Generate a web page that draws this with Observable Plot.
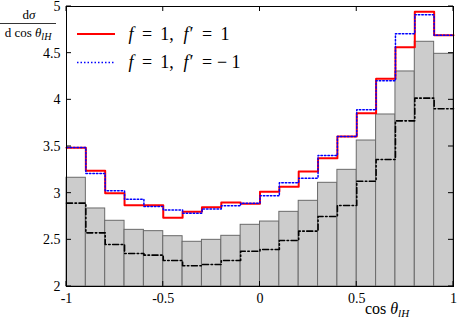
<!DOCTYPE html>
<html><head><meta charset="utf-8">
<script src="https://cdn.jsdelivr.net/npm/d3@7"></script>
<script src="https://cdn.jsdelivr.net/npm/@observablehq/plot@0.6"></script>
<style>body{margin:0;background:#fff;} svg{display:block}</style>
</head><body><div id="chart"></div>
<script>
const binEdges = [-1,-0.9,-0.8,-0.7,-0.6,-0.5,-0.4,-0.3,-0.2,-0.1,0,0.1,0.2,0.3,0.4,0.5,0.6,0.7,0.8,0.9,1];
const grayHist = [3.165,2.836,2.704,2.607,2.593,2.539,2.479,2.50,2.543,2.661,2.696,2.80,2.918,3.111,3.25,3.564,3.843,4.304,4.622,4.493];
const redStep = [3.486,3.24,3.0,2.871,2.87,2.736,2.80,2.85,2.90,2.886,3.014,3.068,3.232,3.375,3.607,3.857,4.225,4.564,4.943,4.693];
const blueStep = [3.49,3.21,3.025,2.935,2.857,2.82,2.785,2.83,2.865,2.893,2.971,3.111,3.161,3.404,3.607,3.893,4.204,4.707,4.911,4.693];
const blackStep = [2.893,2.575,2.45,2.354,2.336,2.279,2.222,2.236,2.279,2.378,2.396,2.493,2.593,2.75,2.868,3.128,3.361,3.775,4.018,3.904];
const xTicks = [-1,-0.5,0,0.5,1];
const xTickLabels = ["-1","-0.5","0","0.5","1"];
const yTicks = [2,2.5,3,3.5,4,4.5,5];
const yTickLabels = ["2","2.5","3","3.5","4","4.5","5"];
const xDomain = [-1,1];
const yDomain = [2,5];

const FONT = "'Liberation Serif', 'Times New Roman', 'DejaVu Serif', serif";
const bars = grayHist.map((v,i)=>({x1: binEdges[i], x2: binEdges[i+1], v}));
function steps(vals){
  const pts = vals.map((v,i)=>({x: binEdges[i], y: v}));
  pts.push({x: binEdges[vals.length], y: vals[vals.length-1]});
  return pts;
}
const fmtX = d => xTickLabels[xTicks.findIndex(t => Math.abs(t - d) < 1e-9)];
const fmtY = d => yTickLabels[yTicks.findIndex(t => Math.abs(t - d) < 1e-9)];
const plot = Plot.plot({
  width: 458, height: 318,
  marginLeft: 66, marginRight: 5, marginTop: 6, marginBottom: 32,
  style: {fontFamily: FONT, fontSize: "14px", color: "black", background: "white"},
  x: {domain: xDomain, label: null},
  y: {domain: yDomain, label: null},
  marks: [
    Plot.rect(bars, {x1: "x1", x2: "x2", y1: () => yDomain[0], y2: "v", fill: "#cccccc", stroke: "#6a6a6a", strokeWidth: 1}),
    Plot.line(steps(blackStep), {x: "x", y: "y", curve: "step-after", stroke: "black", strokeWidth: 1.6, strokeDasharray: "6,2.5,1.5,2.5"}),
    Plot.line(steps(redStep), {x: "x", y: "y", curve: "step-after", stroke: "#ff0000", strokeWidth: 2}),
    Plot.line(steps(blueStep), {x: "x", y: "y", curve: "step-after", stroke: "#0000ff", strokeWidth: 1.5, strokeDasharray: "1.5,2"}),
    Plot.axisX(xTicks, {anchor: "bottom", tickSize: 0, tickPadding: 7, tickFormat: fmtX, label: null, fontSize: 14, fontFamily: FONT}),
    Plot.axisY(yTicks, {anchor: "left", tickSize: 0, tickPadding: 6, tickFormat: fmtY, label: null, fontSize: 14, fontFamily: FONT}),
    Plot.frame({stroke: "black", strokeWidth: 1})
  ]
});
document.getElementById("chart").appendChild(plot);

const svg = d3.select(plot);
const sx = plot.scale("x"), sy = plot.scale("y");
const [px0, px1] = sx.range, [py0, py1] = sy.range; // py0 bottom, py1 top
// inward mirrored ticks
const tg = svg.append("g").attr("stroke", "black").attr("stroke-width", 1);
xTicks.forEach(v => {
  const x = sx.apply(v);
  tg.append("line").attr("x1", x).attr("x2", x).attr("y1", py0).attr("y2", py0 - 5);
  tg.append("line").attr("x1", x).attr("x2", x).attr("y1", py1).attr("y2", py1 + 5);
});
yTicks.forEach(v => {
  const y = sy.apply(v);
  tg.append("line").attr("x1", px0).attr("x2", px0 + 5).attr("y1", y).attr("y2", y);
  tg.append("line").attr("x1", px1).attr("x2", px1 - 5).attr("y1", y).attr("y2", y);
});

const g = svg.append("g").style("font-family", FONT).attr("fill", "black");
// legend
const legend = [
  {color: "#ff0000", dash: null, width: 2, y: 34, parts: [["f",131,true],["=",147,false],["1,",167,false],["f′",188,true],["=",207,false],["1",225,false]]},
  {color: "#0000ff", dash: "1.5,2", width: 1.5, y: 62.5, parts: [["f",131,true],["=",147,false],["1,",167,false],["f′",188,true],["=",207,false],["−",222,false],["1",236,false]]}
];
legend.forEach(l => {
  g.append("line").attr("x1", 77).attr("x2", 115).attr("y1", l.y).attr("y2", l.y)
    .attr("stroke", l.color).attr("stroke-width", l.width).attr("stroke-dasharray", l.dash);
  const t = g.append("text").attr("y", l.y + 5.5).attr("font-size", 18);
  l.parts.forEach(p => t.append("tspan").attr("x", p[1]).attr("font-style", p[2] ? "italic" : "normal").text(p[0]));
});
// y title fraction
const yt1 = g.append("text").attr("x", 29).attr("y", 19).attr("text-anchor", "middle").attr("font-size", 13);
yt1.append("tspan").text("d");
yt1.append("tspan").attr("font-style", "italic").text("σ");
g.append("line").attr("x1", 0).attr("x2", 56).attr("y1", 23.5).attr("y2", 23.5).attr("stroke", "black").attr("stroke-width", 0.8);
const yt2 = g.append("text").attr("x", 28).attr("y", 37).attr("text-anchor", "middle").attr("font-size", 13);
yt2.append("tspan").text("d cos ");
yt2.append("tspan").attr("font-style", "italic").text("θ");
yt2.append("tspan").attr("font-style", "italic").attr("font-size", 10).attr("dy", 2.5).text("lH");
// x title
const xt = g.append("text").attr("x", 387).attr("y", 314).attr("font-size", 16);
xt.append("tspan").text("cos ");
xt.append("tspan").attr("font-style", "italic").text("θ");
xt.append("tspan").attr("font-style", "italic").attr("font-size", 11).attr("dy", 3).text("lH");
</script>
</body></html>
